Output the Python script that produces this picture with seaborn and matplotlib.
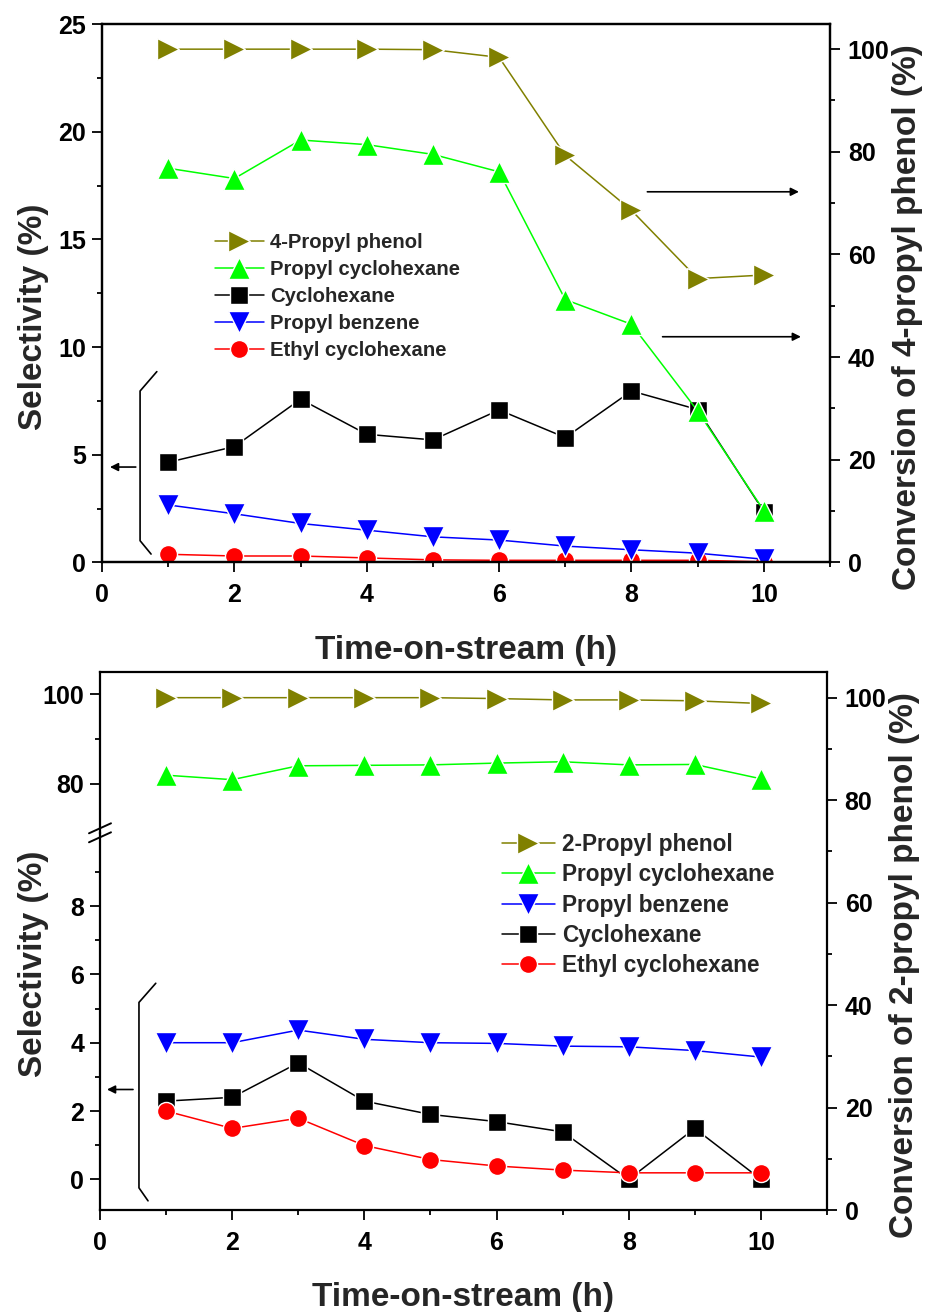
import matplotlib
matplotlib.use("Agg")
import matplotlib.pyplot as plt
from matplotlib.lines import Line2D
from matplotlib.ticker import MultipleLocator, FixedLocator
import seaborn as sns

# ── data ─────────────────────────────────────────────────────────────────────
hours = [1, 2, 3, 4, 5, 6, 7, 8, 9, 10]

# panel (a): 4-propyl phenol feed
a_conv_4pp = [100.0, 100.0, 100.0, 100.0, 99.9, 98.4, 79.3, 68.6, 55.3, 56.0]   # right axis
a_propyl_cyclohexane = [76.8, 74.8, 82.3, 81.4, 79.5, 76.1, 51.2, 46.4, 29.5, 10.1]  # right axis
a_cyclohexane = [4.65, 5.38, 7.58, 5.95, 5.69, 7.08, 5.80, 7.96, 7.10, 2.36]
a_propyl_benzene = [2.67, 2.26, 1.81, 1.50, 1.19, 1.04, 0.76, 0.59, 0.43, 0.15]
a_ethyl_cyclohexane = [0.38, 0.30, 0.30, 0.21, 0.12, 0.10, 0.10, 0.10, 0.10, 0.03]
a_labels = ["4-Propyl phenol", "Propyl cyclohexane", "Cyclohexane",
            "Propyl benzene", "Ethyl cyclohexane"]

# panel (b): 2-propyl phenol feed
b_conv_2pp = [99.2, 99.2, 99.2, 99.2, 99.2, 99.0, 98.7, 98.7, 98.5, 97.9]
b_propyl_cyclohexane = [81.9, 80.9, 84.0, 84.1, 84.2, 84.6, 84.9, 84.2, 84.3, 81.1]
b_propyl_benzene = [4.00, 4.00, 4.37, 4.10, 4.00, 3.98, 3.90, 3.88, 3.77, 3.58]
b_cyclohexane = [2.29, 2.40, 3.41, 2.29, 1.90, 1.69, 1.39, 0.00, 1.49, 0.00]
b_ethyl_cyclohexane = [2.00, 1.49, 1.79, 0.99, 0.58, 0.39, 0.27, 0.19, 0.19, 0.19]
b_labels = ["2-Propyl phenol", "Propyl cyclohexane", "Propyl benzene",
            "Cyclohexane", "Ethyl cyclohexane"]

x_ticks = [0, 2, 4, 6, 8, 10]

# ── style ────────────────────────────────────────────────────────────────────
sns.set_theme(style="ticks")
plt.rcParams.update({
    "font.family": ["Liberation Sans", "DejaVu Sans"],
    "font.weight": "bold",
    "axes.labelweight": "bold",
    "axes.edgecolor": "black",
    "xtick.color": "black",
    "ytick.color": "black",
})

OLIVE, LIME, BLUE, RED, BLACK = "#808000", "#00FF00", "#0000FF", "#FF0000", "#000000"
TICK_FS, LABEL_FS = 18, 24
MS_TRI, MS_SQ, MS_CIR = 16, 12.5, 13


def draw(ax, y, color, marker, ms):
    sns.lineplot(x=hours, y=y, ax=ax, color=color, marker=marker, markersize=ms,
                 linewidth=1.1, markeredgecolor="white", markeredgewidth=1.0)
    return ax.lines[-1]


def ticks(ax, axis, major, minor, pad):
    ax.tick_params(axis=axis, which="major", direction="out", length=7, width=1.3,
                   labelsize=TICK_FS, pad=pad)
    ax.tick_params(axis=axis, which="minor", direction="out", length=3.5, width=1.3)
    target = ax.xaxis if axis == "x" else ax.yaxis
    target.set_major_locator(major)
    target.set_minor_locator(minor)


def arrow(ax, start, end):
    ax.annotate("", xy=end, xytext=start,
                arrowprops=dict(arrowstyle="-|>", color="black", lw=1.2,
                                mutation_scale=12, shrinkA=0, shrinkB=0))


fig = plt.figure(figsize=(9.3, 13.12), dpi=100)

# ── panel (a) ────────────────────────────────────────────────────────────────
ax_a = fig.add_axes([0.1097, 0.5713, 0.7828, 0.4104])
ax_ar = ax_a.twinx()

h_red = draw(ax_a, a_ethyl_cyclohexane, RED, "o", MS_CIR)
h_blue = draw(ax_a, a_propyl_benzene, BLUE, "v", MS_TRI)
h_black = draw(ax_a, a_cyclohexane, BLACK, "s", MS_SQ)
h_green = draw(ax_ar, a_propyl_cyclohexane, LIME, "^", MS_TRI)
h_olive = draw(ax_ar, a_conv_4pp, OLIVE, ">", MS_TRI)

ax_a.set_xlim(0, 11)
ax_a.set_ylim(0, 25)
ax_ar.set_ylim(0, 104.9)
ticks(ax_a, "x", FixedLocator(x_ticks), MultipleLocator(1), 8)
ticks(ax_a, "y", MultipleLocator(5), MultipleLocator(2.5), 4.5)
ticks(ax_ar, "y", MultipleLocator(20), MultipleLocator(10), 5.8)
for a in (ax_a, ax_ar):
    for s in a.spines.values():
        s.set_linewidth(1.6)

ax_a.set_xlabel("Time-on-stream (h)", fontsize=LABEL_FS)
ax_a.xaxis.set_label_coords(0.5, -0.135)
ax_a.set_ylabel("Selectivity (%)", fontsize=LABEL_FS)
ax_a.yaxis.set_label_coords(-0.0728, 0.4568)
ax_ar.set_ylabel("Conversion of 4-propyl phenol (%)", fontsize=LABEL_FS)
ax_ar.yaxis.set_label_coords(1.085, 0.456)

ax_ar.legend([h_olive, h_green, h_black, h_blue, h_red], a_labels,
             loc="upper left", bbox_to_anchor=(0.1552, 0.612), frameon=False,
             borderpad=0, borderaxespad=0, handlelength=2.4, handletextpad=0.3,
             labelspacing=0.4, fontsize=14.6)

# arrows and bracket
arrow(ax_a, (0.51, 4.43), (0.12, 4.43))
ax_a.plot([0.828, 0.575, 0.575, 0.741], [8.86, 7.96, 1.01, 0.39],
          color="black", lw=1.2, clip_on=False)
arrow(ax_a, (8.24, 17.21), (10.53, 17.21))
arrow(ax_a, (8.47, 10.48), (10.56, 10.48))

# ── panel (b): broken left axis ──────────────────────────────────────────────
ax_b = fig.add_axes([0.1075, 0.0777, 0.7817, 0.4098])
ax_lo = fig.add_axes([0.1075, 0.0777, 0.7817, 0.28739])
ax_hi = fig.add_axes([0.1075, 0.36509, 0.7817, 0.12241])

ax_b.yaxis.tick_right()
ax_b.yaxis.set_label_position("right")
ax_b.spines["left"].set_visible(False)
for s in ax_b.spines.values():
    s.set_linewidth(1.6)
ax_b.set_xlim(0, 11)
ax_b.set_ylim(0, 104.9)
ticks(ax_b, "x", FixedLocator(x_ticks), MultipleLocator(1), 8)
ticks(ax_b, "y", MultipleLocator(20), MultipleLocator(10), 5.8)

for a in (ax_lo, ax_hi):
    a.patch.set_visible(False)
    for side in ("top", "right", "bottom"):
        a.spines[side].set_visible(False)
    a.spines["left"].set_linewidth(1.6)
    a.set_xlim(0, 11)
    a.tick_params(axis="x", which="both", bottom=False, labelbottom=False)

h2_black = draw(ax_lo, b_cyclohexane, BLACK, "s", MS_SQ)
h2_red = draw(ax_lo, b_ethyl_cyclohexane, RED, "o", MS_CIR)
h2_blue = draw(ax_lo, b_propyl_benzene, BLUE, "v", MS_TRI)
h2_green = draw(ax_hi, b_propyl_cyclohexane, LIME, "^", MS_TRI)
h2_olive = draw(ax_hi, b_conv_2pp, OLIVE, ">", MS_TRI)

ax_lo.set_ylim(-0.9, 10.14)
ax_hi.set_ylim(69.0, 104.84)
ticks(ax_lo, "y", FixedLocator([0, 2, 4, 6, 8]), FixedLocator([1, 3, 5, 7, 9]), 4.5)
ticks(ax_hi, "y", FixedLocator([80, 100]), FixedLocator([90]), 4.5)

ax_b.set_xlabel("Time-on-stream (h)", fontsize=LABEL_FS)
ax_b.xaxis.set_label_coords(0.5, -0.134)
ax_b.set_ylabel("Conversion of 2-propyl phenol (%)", fontsize=LABEL_FS)
ax_b.yaxis.set_label_coords(1.085, 0.456)
ax_lo.set_ylabel("Selectivity (%)", fontsize=LABEL_FS)
ax_lo.yaxis.set_label_coords(-0.0702, 0.4575, transform=ax_b.transAxes)

ax_hi.legend([h2_olive, h2_green, h2_blue, h2_black, h2_red], b_labels,
             loc="upper left", bbox_to_anchor=(0.5395, 0.365),
             bbox_transform=fig.transFigure, frameon=False, borderpad=0,
             borderaxespad=0, handlelength=2.35, handletextpad=0.3,
             labelspacing=0.32, fontsize=16.3)

arrow(ax_lo, (0.50, 2.63), (0.106, 2.63))
ax_lo.plot([0.844, 0.59, 0.59, 0.727], [5.74, 5.18, -0.25, -0.63],
           color="black", lw=1.2, clip_on=False)

# break marks on the left spine
W, H = 930, 1312
for y0, y1 in ((833.3, 823.3), (842.3, 832.3)):
    fig.add_artist(Line2D([89 / W, 111 / W], [1 - y0 / H, 1 - y1 / H],
                          color="black", lw=1.4))

fig.savefig("out.png", dpi=100)
